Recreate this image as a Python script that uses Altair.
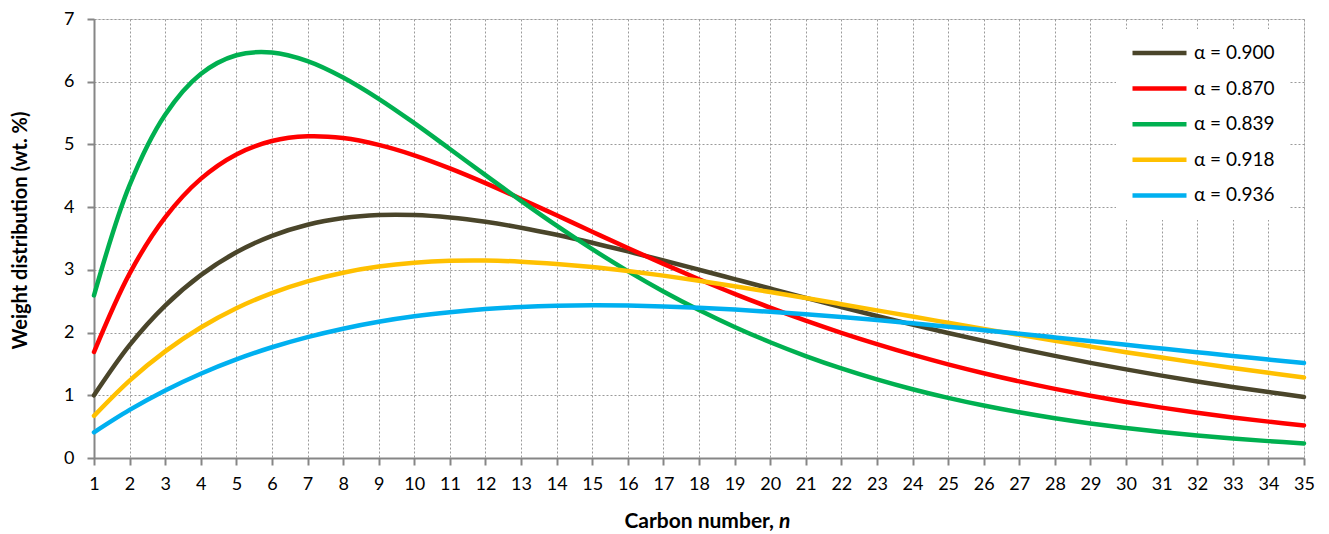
import altair as alt
import pandas as pd

carbon_n = list(range(1, 36))

w_0900 = [1.000, 1.800, 2.430, 2.916, 3.281, 3.543, 3.720, 3.826, 3.874, 3.874,
          3.835, 3.766, 3.672, 3.559, 3.432, 3.294, 3.150, 3.002, 2.852, 2.702,
          2.553, 2.407, 2.265, 2.127, 1.994, 1.867, 1.744, 1.628, 1.517, 1.413,
          1.314, 1.221, 1.133, 1.051, 0.973]
w_0870 = [1.690, 2.941, 3.837, 4.451, 4.841, 5.054, 5.130, 5.101, 4.992, 4.826,
          4.618, 4.383, 4.131, 3.870, 3.608, 3.348, 3.095, 2.851, 2.618, 2.398,
          2.190, 1.996, 1.816, 1.648, 1.494, 1.352, 1.221, 1.102, 0.993, 0.893,
          0.803, 0.721, 0.647, 0.580, 0.520]
w_0839 = [2.592, 4.350, 5.474, 6.123, 6.422, 6.466, 6.329, 6.068, 5.728, 5.340,
          4.928, 4.510, 4.100, 3.704, 3.330, 2.980, 2.656, 2.360, 2.090, 1.846,
          1.626, 1.429, 1.254, 1.097, 0.959, 0.837, 0.729, 0.634, 0.551, 0.478,
          0.415, 0.359, 0.311, 0.269, 0.232]
w_0918 = [0.672, 1.235, 1.700, 2.081, 2.388, 2.630, 2.817, 2.955, 3.052, 3.113,
          3.144, 3.148, 3.131, 3.095, 3.045, 2.981, 2.908, 2.826, 2.739, 2.646,
          2.551, 2.453, 2.354, 2.255, 2.157, 2.059, 1.963, 1.869, 1.777, 1.687,
          1.601, 1.517, 1.436, 1.358, 1.283]
w_0936 = [0.410, 0.767, 1.077, 1.344, 1.572, 1.766, 1.928, 2.062, 2.172, 2.259,
          2.325, 2.375, 2.408, 2.427, 2.434, 2.430, 2.417, 2.395, 2.366, 2.331,
          2.291, 2.247, 2.199, 2.147, 2.094, 2.038, 1.981, 1.923, 1.864, 1.805,
          1.746, 1.687, 1.628, 1.570, 1.513]

series_names = ["α = 0.900", "α = 0.870", "α = 0.839", "α = 0.918", "α = 0.936"]
series_values = [w_0900, w_0870, w_0839, w_0918, w_0936]
series_colors = ["#4A452A", "#FF0000", "#00B050", "#FFC000", "#00B0F0"]

rows = []
for name, vals in zip(series_names, series_values):
    for n, v in zip(carbon_n, vals):
        rows.append({"n": n, "w": v, "series": name})
df = pd.DataFrame(rows)

FONT = "Lato"
GRID = "#9A9A9A"
AXIS = "#868686"

lines = alt.Chart(df).mark_line(
    strokeWidth=4.5, interpolate="catmull-rom", strokeCap="round"
).encode(
    x=alt.X("n:Q",
            scale=alt.Scale(domain=[1, 35], nice=False, zero=False),
            axis=alt.Axis(values=carbon_n, title=None, labelAngle=0,
                          labelFlush=False, labelPadding=10,
                          tickSize=7, tickWidth=2, tickColor=AXIS,
                          domainColor=AXIS, domainWidth=2,
                          grid=True, gridColor=GRID, gridDash=[2, 2],
                          gridWidth=1, labelFontSize=18, labelFont=FONT,
                          labelColor="black")),
    y=alt.Y("w:Q",
            scale=alt.Scale(domain=[0, 7], nice=False),
            axis=alt.Axis(values=[0, 1, 2, 3, 4, 5, 6, 7],
                          title="Weight distribution (wt. %)",
                          titleFont=FONT, titleFontSize=20, titleFontWeight="bold",
                          titleColor="black", titlePadding=33, titleY=211,
                          labelPadding=13, tickSize=7, tickWidth=2,
                          tickColor=AXIS, domainColor=AXIS, domainWidth=2,
                          grid=True, gridColor=GRID, gridDash=[2, 2], gridWidth=1,
                          labelFontSize=18, labelFont=FONT, labelColor="black")),
    color=alt.Color("series:N",
                    scale=alt.Scale(domain=series_names, range=series_colors),
                    sort=series_names,
                    legend=alt.Legend(title=None, orient="none",
                                      legendX=1022, legendY=10,
                                      fillColor="white", padding=14,
                                      symbolType="stroke", symbolSize=2916,
                                      symbolStrokeWidth=4.5, clipHeight=20,
                                      rowPadding=15.6, labelOffset=5,
                                      labelFont=FONT, labelFontSize=19,
                                      labelColor="black")),
)

title_df = pd.DataFrame({"a": [0]})
xt1 = alt.Chart(title_df).mark_text(
    text="Carbon number,", font=FONT, fontSize=21, fontWeight="bold",
    align="right", baseline="middle", color="black"
).encode(x=alt.value(680), y=alt.value(503))
xt2 = alt.Chart(title_df).mark_text(
    text="n", font=FONT, fontSize=21, fontWeight="bold", fontStyle="italic",
    align="left", baseline="middle", color="black"
).encode(x=alt.value(685), y=alt.value(503))

chart = alt.layer(lines, xt1, xt2).properties(
    width=1210, height=439,
    padding={"left": 2, "top": 2, "right": 5, "bottom": 5},
).configure_view(strokeWidth=0).configure(font=FONT)

chart.save("out.html", embed_options={"renderer": "svg", "actions": False})
